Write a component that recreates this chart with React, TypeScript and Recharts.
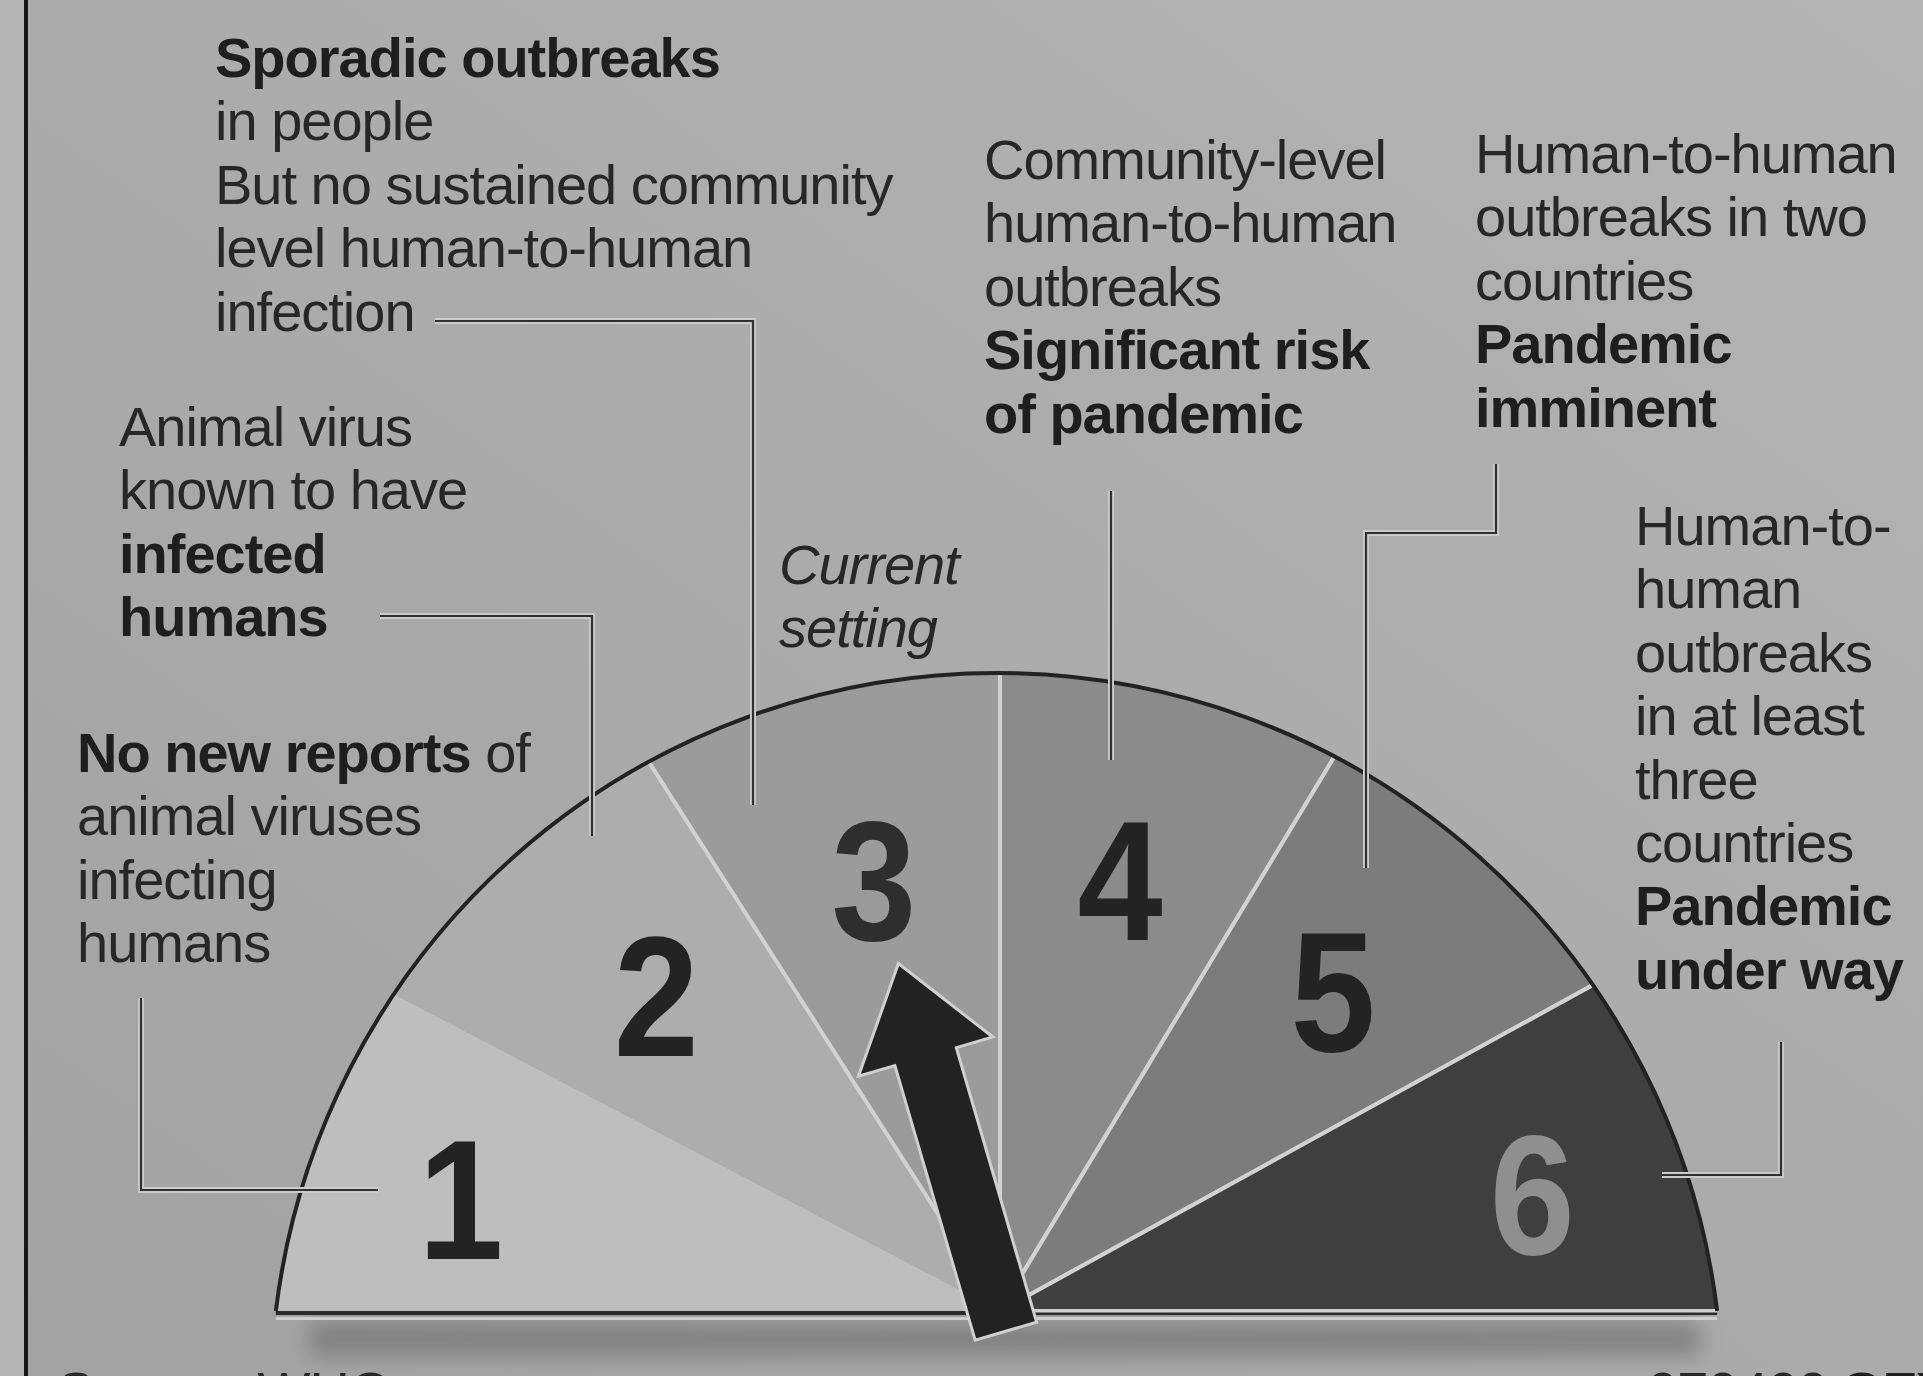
import React from "react";
import { PieChart, Pie, Cell } from "recharts";

// ---------------- data ----------------
const phaseNames = ["1", "2", "3", "4", "5", "6"];
// angular share of the gauge (degrees)
const phaseSpans = [27.6, 29.8, 32.6, 31.1, 30.1, 28.8];
const currentPhase = "3";

type Seg = [string, boolean]; // [text, bold]
const phase1Text: Seg[][] = [
  [["No new reports", true], [" of", false]],
  [["animal viruses", false]],
  [["infecting", false]],
  [["humans", false]],
];
const phase2Text: Seg[][] = [
  [["Animal virus", false]],
  [["known to have", false]],
  [["infected", true]],
  [["humans", true]],
];
const phase3Text: Seg[][] = [
  [["Sporadic outbreaks", true]],
  [["in people", false]],
  [["But no sustained community", false]],
  [["level human-to-human", false]],
  [["infection", false]],
];
const phase4Text: Seg[][] = [
  [["Community-level", false]],
  [["human-to-human", false]],
  [["outbreaks", false]],
  [["Significant risk", true]],
  [["of pandemic", true]],
];
const phase5Text: Seg[][] = [
  [["Human-to-human", false]],
  [["outbreaks in two", false]],
  [["countries", false]],
  [["Pandemic", true]],
  [["imminent", true]],
];
const phase6Text: Seg[][] = [
  [["Human-to-", false]],
  [["human", false]],
  [["outbreaks", false]],
  [["in at least", false]],
  [["three", false]],
  [["countries", false]],
  [["Pandemic", true]],
  [["under way", true]],
];
const currentLabel = ["Current", "setting"];
const sourceNote = "Source: WHO";
const creditCode = "070409";
const creditTag = "GFX";

// ---------------- layout / style ----------------
const W = 1923;
const H = 1376;
const FONT = "'Liberation Sans', Arial, Helvetica, sans-serif";
const FS = 56;
const LH = 63.4;
const TEXT = "#272727";
const CX = 1000;
const CY = 1311;
const ARC = { cx: 996.5, cy: 1399, r: 726 };
const sliceFills = ["#bebebe", "#adadad", "#9b9b9b", "#8b8b8b", "#7c7c7c", "#3f3f3f"];
const sliceStrokes = ["none", "none", "#d2d2d2", "#d2d2d2", "#d2d2d2", "#d2d2d2"];
const digitColors = ["#232323", "#232323", "#2e2e2e", "#232323", "#232323", "#8f8f8f"];

const textBlocks = [
  { lines: phase1Text, x: 77, y: 772 },
  { lines: phase2Text, x: 119, y: 446 },
  { lines: phase3Text, x: 215, y: 77 },
  { lines: phase4Text, x: 984, y: 179 },
  { lines: phase5Text, x: 1475, y: 173 },
  { lines: phase6Text, x: 1635, y: 545 },
];
const leaders: number[][][] = [
  [[141, 998], [141, 1190], [378, 1190]],
  [[380, 616], [592, 616], [592, 836]],
  [[435, 321], [753, 321], [753, 805]],
  [[1111, 491], [1111, 760]],
  [[1496, 464], [1496, 533], [1366, 533], [1366, 868]],
  [[1781, 1042], [1781, 1175], [1662, 1175]],
];

const pieData = phaseNames.map((p, i) => ({ phase: p, value: phaseSpans[i] }));

const RAD = Math.PI / 180;
function distToArc(cx: number, cy: number, ux: number, uy: number) {
  const ax = cx - ARC.cx;
  const ay = cy - ARC.cy;
  const b = ax * ux + ay * uy;
  const c = ax * ax + ay * ay - ARC.r * ARC.r;
  return -b + Math.sqrt(b * b - c);
}
function arcHalfChord(y: number) {
  const dy = ARC.cy - y;
  return Math.sqrt(ARC.r * ARC.r - dy * dy);
}

const renderPhaseLabel = (props: any) => {
  const { cx, cy, midAngle, index } = props;
  const name = props.phase ?? (props.payload && props.payload.phase) ?? props.name;
  const edge = Math.abs(Math.cos(midAngle * RAD)) > 0.9;
  const ang = edge ? midAngle + (midAngle > 90 ? 2 : -2) : midAngle;
  const ux = Math.cos(-ang * RAD);
  const uy = Math.sin(-ang * RAD);
  const dist = distToArc(cx, cy, ux, uy) * (edge ? 0.78 : 0.7);
  const x = cx + ux * dist;
  const y = cy + uy * dist;
  const fs = 170;
  const digit = (
    <text
      transform={`translate(${x},${y + 0.355 * fs}) scale(0.9,1)`}
      x={0}
      y={0}
      textAnchor="middle"
      fontFamily={FONT}
      fontWeight="bold"
      fontSize={fs}
      fill={digitColors[index]}
    >
      {name}
    </text>
  );
  if (name !== currentPhase) return <g key={`lab-${index}`}>{digit}</g>;
  const dx = Math.cos(-midAngle * RAD);
  const dy = Math.sin(-midAngle * RAD);
  const nx = -dy;
  const ny = dx;
  const bx = cx - 21 * dx;
  const by = cy - 21 * dy;
  const P = (s: number, w: number) => `${bx + s * dx + w * nx},${by + s * dy + w * ny}`;
  const pts = [P(0, -32), P(286, -32), P(286, -70), P(383, 0), P(286, 70), P(286, 32), P(0, 32)].join(" ");
  return (
    <g key={`lab-${index}`}>
      {digit}
      <polygon points={pts} fill="#222222" stroke="#d0d0d0" strokeWidth={3} strokeLinejoin="miter" />
    </g>
  );
};

function TextBlock({ lines, x, y }: { lines: Seg[][]; x: number; y: number }) {
  return (
    <text
      x={x}
      y={y}
      fontFamily={FONT}
      fontSize={FS}
      letterSpacing={-1}
      fill={TEXT}
      style={{ whiteSpace: "pre" }}
    >
      {lines.map((segs, i) => (
        <tspan key={i} x={x} y={y + i * LH}>
          {segs.map(([t, b], j) => (
            <tspan key={j} fontWeight={b ? "bold" : "normal"} fill={b ? "#1e1e1e" : TEXT}>
              {t}
            </tspan>
          ))}
        </tspan>
      ))}
    </text>
  );
}

export default function App() {
  const clipY = CY + 1.5;
  const hc = arcHalfChord(clipY);
  const hcBase = arcHalfChord(CY);
  const left = ARC.cx - hcBase;
  const right = ARC.cx + hcBase;
  const abs: React.CSSProperties = { position: "absolute", left: 0, top: 0 };
  return (
    <div style={{ position: "absolute", left: 0, top: 0, width: W, height: H, overflow: "hidden" }}>
      <style>{`.recharts-sector{clip-path:url(#gaugeClip);}`}</style>
      {/* underlay */}
      <svg width={W} height={H} style={abs}>
        <defs>
          <linearGradient id="bgGrad" x1="0" y1="1" x2="1" y2="0">
            <stop offset="0" stopColor="#a2a2a2" />
            <stop offset="1" stopColor="#b4b4b4" />
          </linearGradient>
          <filter id="shadowBlur" x="-10%" y="-100%" width="120%" height="300%">
            <feGaussianBlur stdDeviation="10" />
          </filter>
          <clipPath id="gaugeClip">
            <path d={`M ${ARC.cx - hc},${clipY} A ${ARC.r} ${ARC.r} 0 0 1 ${ARC.cx + hc},${clipY} Z`} />
          </clipPath>
        </defs>
        <rect x={0} y={0} width={W} height={H} fill="url(#bgGrad)" />
        <rect x={0} y={0} width={24} height={H} fill="#b4b4b4" />
        <line x1={26} y1={0} x2={26} y2={H} stroke="#161616" strokeWidth={4} />
        <rect x={310} y={1322} width={1390} height={34} fill="#6a6a6a" opacity={0.6} filter="url(#shadowBlur)" />
        <line x1={left} y1={CY + 2} x2={right} y2={CY + 2} stroke="#2a2a2a" strokeWidth={4} />
        <line x1={left} y1={CY + 7.5} x2={right} y2={CY + 7.5} stroke="#cfcfcf" strokeWidth={3} />
      </svg>

      {/* chart */}
      <div style={abs}>
        <PieChart width={W} height={H} margin={{ top: 0, right: 0, bottom: 0, left: 0 }}>
          <Pie
            data={pieData}
            dataKey="value"
            nameKey="phase"
            cx={CX}
            cy={CY}
            startAngle={180}
            endAngle={0}
            innerRadius={0}
            outerRadius={770}
            paddingAngle={0}
            label={renderPhaseLabel}
            labelLine={false}
            isAnimationActive={false}
          >
            {pieData.map((d, i) => (
              <Cell key={d.phase} fill={sliceFills[i]} stroke={sliceStrokes[i]} strokeWidth={4} />
            ))}
          </Pie>
        </PieChart>
      </div>

      {/* overlay: outline, leaders, annotations */}
      <svg width={W} height={H} style={{ ...abs, pointerEvents: "none" }}>
        <path
          d={`M ${left},${CY} A ${ARC.r} ${ARC.r} 0 0 1 ${right},${CY}`}
          fill="none"
          stroke="#222222"
          strokeWidth={4}
        />
        {leaders.map((pts, i) => {
          const p = pts.map((q) => q.join(",")).join(" ");
          return (
            <g key={i}>
              <polyline points={p} fill="none" stroke="#cbcbcb" strokeWidth={6} strokeLinejoin="miter" />
              <polyline points={p} fill="none" stroke="#303030" strokeWidth={2.2} strokeLinejoin="miter" />
            </g>
          );
        })}
        {textBlocks.map((b, i) => (
          <TextBlock key={i} lines={b.lines} x={b.x} y={b.y} />
        ))}
        <text x={779} y={584} fontFamily={FONT} fontSize={FS} fontStyle="italic" letterSpacing={-1} fill={TEXT}>
          <tspan x={779} y={584}>{currentLabel[0]}</tspan>
          <tspan x={779} y={584 + LH}>{currentLabel[1]}</tspan>
        </text>
        <text x={57} y={1411} fontFamily={FONT} fontSize={FS} letterSpacing={-1} fill={TEXT}>
          {sourceNote}
        </text>
        <text x={1647} y={1411} fontFamily={FONT} fontSize={FS} letterSpacing={-1} fill={TEXT}>
          {creditCode}
        </text>
        <text x={1840} y={1411} fontFamily={FONT} fontSize={FS} fontWeight="bold" letterSpacing={-1} fill="#1e1e1e">
          {creditTag}
        </text>
      </svg>
    </div>
  );
}
